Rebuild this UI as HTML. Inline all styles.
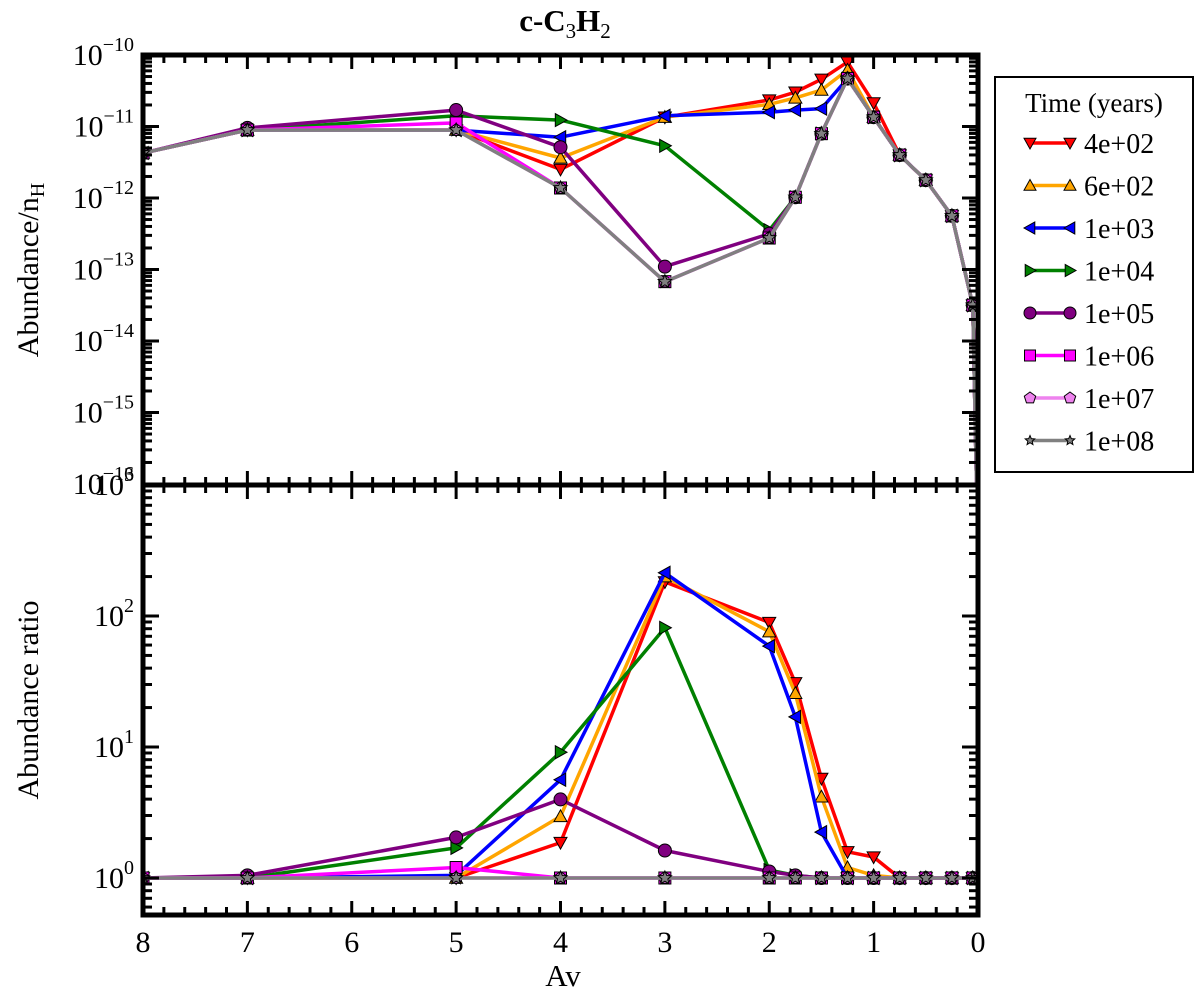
<!DOCTYPE html>
<html><head><meta charset="utf-8"><style>
body{margin:0;background:#fff;}
svg{display:block;font-family:"Liberation Serif",serif;}
</style></head><body>
<svg id="chart" width="1200" height="998" viewBox="0 0 1200 998" xmlns="http://www.w3.org/2000/svg">
<defs>
<clipPath id="clipTop"><rect x="143" y="55" width="835" height="430"/></clipPath>
<clipPath id="clipBot"><rect x="143" y="485" width="835" height="430"/></clipPath>
</defs>
<text x="565" y="31" text-anchor="middle" font-size="31" font-weight="bold">c-C<tspan font-size="21" dy="7" font-weight="normal">3</tspan><tspan dy="-7">H</tspan><tspan font-size="21" dy="7" font-weight="normal">2</tspan></text>
<g id="plots"></g>
<text x="563" y="986" text-anchor="middle" font-size="31">Av</text>
<text transform="translate(38,270) rotate(-90)" text-anchor="middle" font-size="30">Abundance/n<tspan font-size="20" dy="6">H</tspan></text>
<text transform="translate(38,700) rotate(-90)" text-anchor="middle" font-size="30">Abundance ratio</text>
<g id="legend"></g>
</svg>
<script>
const av = [8,7,5,4,3,2,1.75,1.5,1.25,1,0.75,0.5,0.25,0.05,0];
const seriesNames = ["4e+02","6e+02","1e+03","1e+04","1e+05","1e+06","1e+07","1e+08"];
const seriesColors = ["#ff0000","#ffa500","#0000ff","#008000","#800080","#ff00ff","#ee82ee","#808080"];
const seriesMarkers = ["tdown","tup","tleft","tright","circle","square","pent","star"];
// log10(abundance / n_H)
const topRed    = [-11.37,-11.05,-11.05,-11.6,-10.87,-10.63,-10.52,-10.34,-10.1,-10.67,-11.4,-11.75,-12.25,-13.5,-17];
const topOrange = [-11.37,-11.05,-11.05,-11.44,-10.87,-10.69,-10.6,-10.49,-10.21,-10.87,-11.4,-11.75,-12.25,-13.5,-17];
const topBlue   = [-11.37,-11.05,-11.05,-11.15,-10.85,-10.8,-10.77,-10.75,-10.33,-10.87,-11.4,-11.75,-12.25,-13.5,-17];
const topGreen  = [-11.37,-11.05,-10.85,-10.91,-11.27,-12.45,-11.99,-11.1,-10.33,-10.87,-11.4,-11.75,-12.25,-13.5,-17];
const topPurple = [-11.37,-11.02,-10.77,-11.29,-12.96,-12.5,-11.99,-11.1,-10.33,-10.87,-11.4,-11.75,-12.25,-13.5,-17];
const topMagenta= [-11.37,-11.05,-10.95,-11.86,-13.17,-12.56,-11.99,-11.1,-10.33,-10.87,-11.4,-11.75,-12.25,-13.5,-17];
const topViolet = [-11.37,-11.05,-11.05,-11.86,-13.17,-12.56,-11.99,-11.1,-10.33,-10.87,-11.4,-11.75,-12.25,-13.5,-17];
const topGray   = [-11.37,-11.05,-11.05,-11.86,-13.17,-12.56,-11.99,-11.1,-10.33,-10.87,-11.4,-11.75,-12.25,-13.5,-17];
// log10(abundance ratio)
const botRed    = [0,0,0,0.27,2.26,1.95,1.49,0.76,0.2,0.16,0,0,0,0,0];
const botOrange = [0,0,0,0.47,2.3,1.88,1.41,0.62,0.08,0.02,0,0,0,0,0];
const botBlue   = [0,0,0.02,0.75,2.33,1.77,1.23,0.35,0,0,0,0,0,0,0];
const botGreen  = [0,0,0.23,0.96,1.91,0.06,0.02,0,0,0,0,0,0,0,0];
const botPurple = [0,0.02,0.31,0.6,0.21,0.05,0.02,0,0,0,0,0,0,0,0];
const botMagenta= [0,0,0.08,0,0,0,0,0,0,0,0,0,0,0,0];
const botViolet = [0,0,0,0,0,0,0,0,0,0,0,0,0,0,0];
const botGray   = [0,0,0,0,0,0,0,0,0,0,0,0,0,0,0];
const xTicks = [8,7,6,5,4,3,2,1,0];
const topTicks = [-10,-11,-12,-13,-14,-15,-16];
const botTicks = [0,1,2,3];

const topSeries=[topRed,topOrange,topBlue,topGreen,topPurple,topMagenta,topViolet,topGray];
const botSeries=[botRed,botOrange,botBlue,botGreen,botPurple,botMagenta,botViolet,botGray];
const NS="http://www.w3.org/2000/svg";
const L=143,R=978;
const xs=v=>R-(v/8)*(R-L);
const yTop=v=>55+(-10-v)*71.5;
const yBot=v=>485+(3-v)*131;
const root=document.getElementById('plots');
function mk(tag,attrs,parent){const e=document.createElementNS(NS,tag);for(const k in attrs)e.setAttribute(k,attrs[k]);(parent||root).appendChild(e);return e;}
function marker(type,x,y,color,parent,s){
  s=s||6.5;let e;
  const st={fill:color,stroke:"#000","stroke-width":1};
  if(type==="circle")e=mk('circle',Object.assign({cx:x,cy:y,r:s},st),parent);
  else if(type==="square")e=mk('rect',Object.assign({x:x-s+0.5,y:y-s+0.5,width:2*s-1,height:2*s-1},st),parent);
  else{
    let pts=[];
    if(type==="tdown")pts=[[-s,-s*0.8],[s,-s*0.8],[0,s]];
    if(type==="tup")pts=[[-s,s*0.8],[s,s*0.8],[0,-s]];
    if(type==="tleft")pts=[[s*0.8,-s],[s*0.8,s],[-s,0]];
    if(type==="tright")pts=[[-s*0.8,-s],[-s*0.8,s],[s,0]];
    if(type==="pent"){for(let i=0;i<5;i++){const a=-Math.PI/2+i*2*Math.PI/5;pts.push([s*Math.cos(a),s*Math.sin(a)]);}}
    if(type==="star"){for(let i=0;i<10;i++){const a=-Math.PI/2+i*Math.PI/5;const r=i%2?s*0.45:s;pts.push([r*Math.cos(a),r*Math.sin(a)]);}}
    e=mk('polygon',Object.assign({points:pts.map(p=>(x+p[0])+','+(y+p[1])).join(' ')},st),parent);
  }
  return e;
}
function drawPanel(series,ys,clip,panelName){
  const g=mk('g',{'clip-path':'url(#'+clip+')'});
  
  
  series.forEach((vals,i)=>{
    const sg=mk('g',{},g);
    
    
    const d=vals.map((v,j)=>(j?'L':'M')+xs(av[j]).toFixed(1)+','+ys(v).toFixed(1)).join('');
    const ln=mk('path',{d:d,fill:'none',stroke:seriesColors[i],'stroke-width':3.5,'stroke-linejoin':'round'},sg);
    
    
    vals.forEach((v,j)=>{
      const m=marker(seriesMarkers[i],xs(av[j]),ys(v),seriesColors[i],sg,seriesMarkers[i]==="star"?7:6.5);
      
      
    });
  });
}
function axes(y0,y1,ys,ticks,panelName){
  const g=mk('g',{});
  
  
  for(let k=0;k<=40;k++){
    const v=k*0.2, x=xs(v), major=(k%5===0), len=major?14:8;
    mk('line',{x1:x,y1:y0,x2:x,y2:y0+len,stroke:'#000','stroke-width':3},g);
    mk('line',{x1:x,y1:y1,x2:x,y2:y1-len,stroke:'#000','stroke-width':3},g);
  }
  ticks.forEach(t=>{
    const y=ys(t);
    mk('line',{x1:L,y1:y,x2:L+16,y2:y,stroke:'#000','stroke-width':3},g);
    mk('line',{x1:R,y1:y,x2:R-16,y2:y,stroke:'#000','stroke-width':3},g);
    for(let m=2;m<=9;m++){
      const yy=ys(t-1+Math.log10(m));
      if(yy>y0&&yy<y1){
        mk('line',{x1:L,y1:yy,x2:L+9,y2:yy,stroke:'#000','stroke-width':3},g);
        mk('line',{x1:R,y1:yy,x2:R-9,y2:yy,stroke:'#000','stroke-width':3},g);
      }
    }
    const tx=mk('text',{x:134,y:y+10,'text-anchor':'end','font-size':30},g);
    
    
    tx.innerHTML='10<tspan font-size="20" dy="-14">'+(t<0?'\u2212'+(-t):t)+'</tspan>';
  });
  const fr=mk('rect',{x:L,y:y0,width:R-L,height:y1-y0,fill:'none',stroke:'#000','stroke-width':5},g);
  
  
}
drawPanel(topSeries,yTop,'clipTop','top');
drawPanel(botSeries,yBot,'clipBot','bottom');
axes(55,485,yTop,topTicks,'top');
axes(485,915,yBot,botTicks,'bottom');
xTicks.forEach(t=>{
  const tx=mk('text',{x:xs(t),y:952,'text-anchor':'middle','font-size':30});
  
  
  tx.textContent=t;
});
const lg=document.getElementById('legend');
mk('rect',{x:995,y:77,width:198,height:395,fill:'#fff',stroke:'#000','stroke-width':2},lg);
const lt=mk('text',{x:1094,y:112,'text-anchor':'middle','font-size':27},lg);


lt.textContent='Time (years)';
seriesNames.forEach((n,i)=>{
  const y=143+i*42.5;
  const eg=mk('g',{},lg);
  
  
  mk('line',{x1:1030,y1:y,x2:1070,y2:y,stroke:seriesColors[i],'stroke-width':3.5},eg);
  marker(seriesMarkers[i],1030,y,seriesColors[i],eg,seriesMarkers[i]==="star"?5:6);
  marker(seriesMarkers[i],1070,y,seriesColors[i],eg,seriesMarkers[i]==="star"?5:6);
  const t=mk('text',{x:1084,y:y+10,'font-size':28},eg);
  t.textContent=n;
});
</script>
</body></html>
